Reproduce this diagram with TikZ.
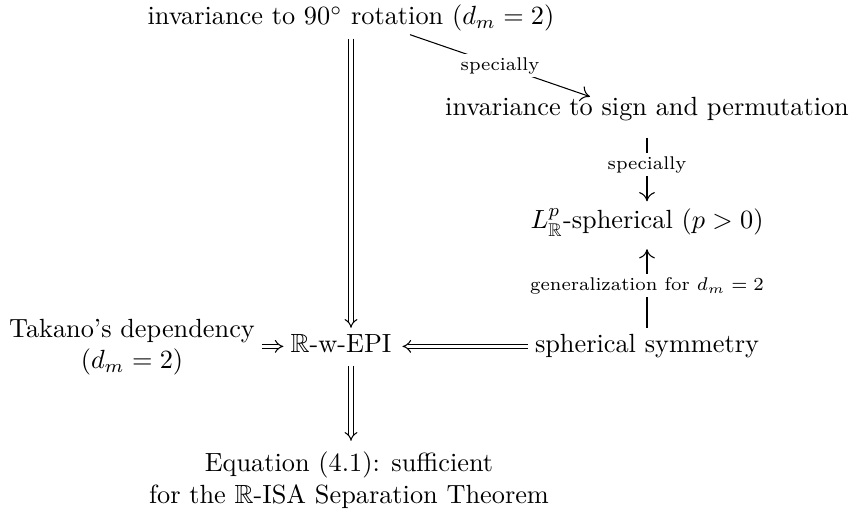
\documentclass[tikz,border=0pt]{standalone}
\usepackage{amssymb}
\usetikzlibrary{arrows.meta,calc}
\begin{document}
\begin{tikzpicture}[x=0.3802pt,y=-0.3802pt,
  lbl/.style={inner sep=2.5pt, anchor=base},
  blk/.style={inner sep=2.5pt, align=center},
  dbl/.style={double, double distance=1.3pt, line width=0.4pt, -{Implies[scale=1.25]}},
  sgl/.style={line width=0.4pt, -{To[length=3.5pt,width=6pt]}},
  tag/.style={font=\scriptsize, fill=white, inner sep=1.2pt}]
\useasboundingbox (0,0) rectangle (856,515);
\node[lbl] (top) at (351,25) {invariance to $90^\circ$ rotation ($d_m=2$)};
\node[lbl] (sign) at (647,116) {invariance to sign and permutation};
\node[lbl] (lp) at (647,229) {$L^p_{\mathbb{R}}$-spherical ($p>0$)};
\node[lbl] (sph) at (647,353) {spherical symmetry};
\node[lbl] (rwepi) at (341,353) {$\mathbb{R}$-w-EPI};
\node[blk] (takano) at (132,347) {Takano's dependency\\($d_m=2$)};
\node[blk] (eq) at (349,480) {Equation (4.1): sufficient\\for the $\mathbb{R}$-ISA Separation Theorem};
\coordinate (ax) at ($(rwepi.base)+(0,-6.6)$);
% diagonal
\draw[sgl] ($(top.south)+(59,-4)$) -- node[tag]{specially} ($(sign.north)+(-57,6)$);
% sign -> lp
\draw[sgl, shorten <=9pt*0.3802] (sign.south) -- node[tag]{specially} (lp.north);
% sph -> lp
\draw[sgl, shorten >=2pt] (sph.north) -- node[tag]{generalization for $d_m=2$} (lp.south);
% double arrows
\draw[dbl] (top.south) -- (top.south |- rwepi.north);
\draw[dbl, shorten <=2pt, shorten >=1.5pt] (top.south |- rwepi.south) -- (top.south |- eq.north);
\draw[dbl, shorten >=1.5pt] (sph.west |- ax) -- (rwepi.east |- ax);
\draw[dbl] (takano.east |- ax) -- (rwepi.west |- ax);
\end{tikzpicture}
\end{document}
